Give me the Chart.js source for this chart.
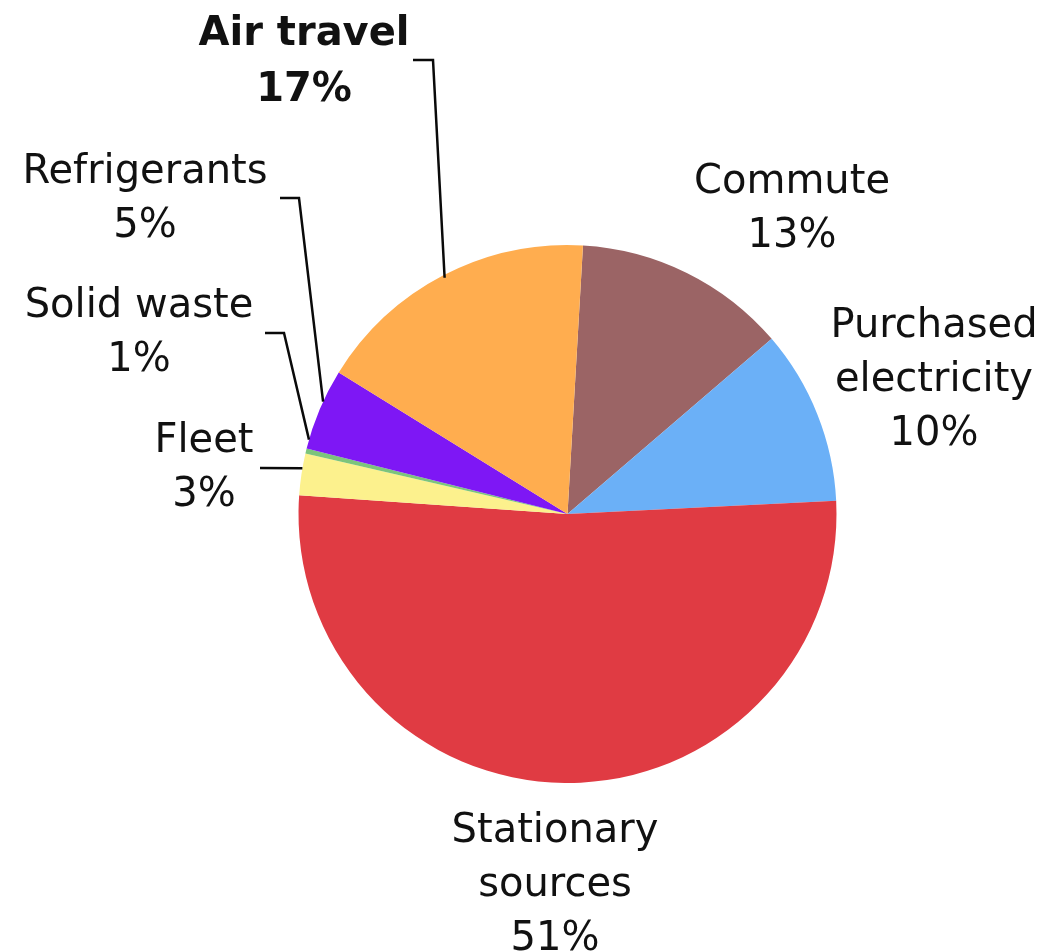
<!DOCTYPE html>
<html>
<head>
<meta charset="utf-8">
<script src="https://cdn.jsdelivr.net/npm/chart.js@4/dist/chart.umd.min.js"></script>
<style>
  html, body { margin: 0; padding: 0; background: #ffffff; }
  #wrap { width: 1046px; height: 951px; }
</style>
</head>
<body>
<div id="wrap"><canvas id="c" width="1046" height="951"></canvas></div>
<script>
// ---- data ----
const categories = ["Commute", "Purchased electricity", "Stationary sources", "Fleet", "Solid waste", "Refrigerants", "Air travel"];
const shares = [12.8, 10.5, 51.9, 2.5, 0.3, 4.9, 17.1];
const pctLabels = ["13%", "10%", "51%", "3%", "1%", "5%", "17%"];
const labelLines = [["Commute"], ["Purchased", "electricity"], ["Stationary", "sources"], ["Fleet"], ["Solid waste"], ["Refrigerants"], ["Air travel"]];
const colors = ["#9B6465", "#6BB0F7", "#E03B43", "#FCF18D", "#7CC47C", "#7E17F5", "#FFAD4F"];

// ---- label layout (text positions, baselines) ----
const labelLayout = [
  { x: 792, y: 193, bold: false },
  { x: 934, y: 337, bold: false },
  { x: 555, y: 842, bold: false },
  { x: 204, y: 452, bold: false },
  { x: 139, y: 317, bold: false },
  { x: 145, y: 183, bold: false },
  { x: 304, y: 45,  bold: true }
];
const lineGap = 54;
// leader lines: path points before anchor, anchor as fraction along slice
const leaders = [
  null, null, null,
  { pts: [[260, 468]], frac: 0.64, rf: 1.0 },
  { pts: [[265, 333], [284, 333]], frac: 2.8, rf: 1.0 },
  { pts: [[280, 198], [299, 198]], frac: 0.6, rf: 1.0 },
  { pts: [[413, 60], [433, 60]], frac: 0.5, rf: 0.99 }
];

const labelPlugin = {
  id: 'pieLabels',
  afterDraw(chart) {
    const ctx = chart.ctx;
    const meta = chart.getDatasetMeta(0);
    ctx.save();
    // leader lines
    ctx.strokeStyle = '#0a0a0a';
    ctx.lineWidth = 2.5;
    ctx.lineJoin = 'miter';
    leaders.forEach((ld, i) => {
      if (!ld) return;
      const arc = meta.data[i];
      const p = arc.getProps(['x', 'y', 'startAngle', 'endAngle', 'outerRadius'], true);
      const a = p.startAngle + (p.endAngle - p.startAngle) * ld.frac;
      const ax = p.x + Math.cos(a) * p.outerRadius * ld.rf;
      const ay = p.y + Math.sin(a) * p.outerRadius * ld.rf;
      ctx.beginPath();
      ctx.moveTo(ld.pts[0][0], ld.pts[0][1]);
      for (let k = 1; k < ld.pts.length; k++) ctx.lineTo(ld.pts[k][0], ld.pts[k][1]);
      ctx.lineTo(ax, ay);
      ctx.stroke();
    });
    // text
    ctx.fillStyle = '#111111';
    ctx.textAlign = 'center';
    ctx.textBaseline = 'alphabetic';
    labelLayout.forEach((L, i) => {
      ctx.font = (L.bold ? 'bold ' : '') + '40px "DejaVu Sans", Verdana, sans-serif';
      const lines = labelLines[i].concat([pctLabels[i]]);
      lines.forEach((t, k) => {
        ctx.fillText(t, L.x, L.y + k * (L.bold ? 56 : lineGap));
      });
    });
    ctx.restore();
  }
};

new Chart(document.getElementById('c'), {
  type: 'pie',
  data: {
    labels: categories,
    datasets: [{
      data: shares,
      backgroundColor: colors,
      borderWidth: 0
    }]
  },
  options: {
    responsive: false,
    devicePixelRatio: 1,
    animation: false,
    rotation: 3.3,
    layout: { padding: { left: 297, right: 208, top: 245, bottom: 168 } },
    plugins: {
      legend: { display: false },
      tooltip: { enabled: false },
      title: { display: false }
    }
  },
  plugins: [labelPlugin]
});
</script>
</body>
</html>
